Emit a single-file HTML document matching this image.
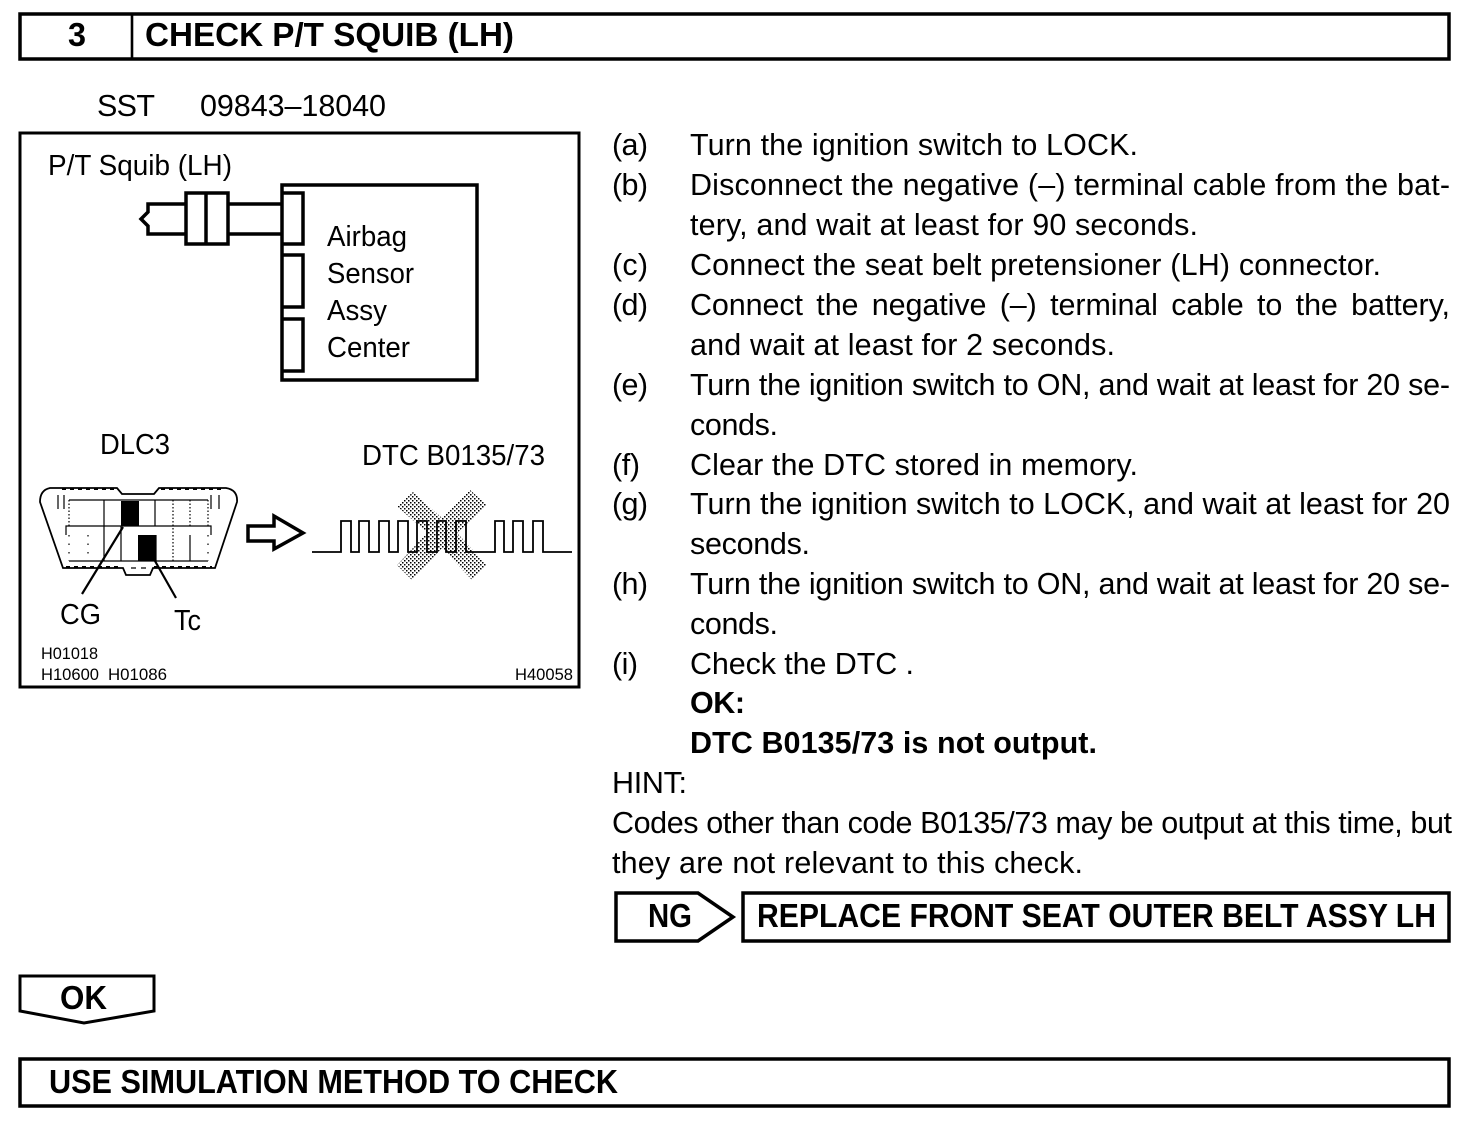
<!DOCTYPE html>
<html><head><meta charset="utf-8"><style>
html,body{margin:0;padding:0;background:#fff}
svg{display:block}
text{font-family:"Liberation Sans",sans-serif;fill:#000;white-space:pre}
.t{font-size:30.5px}
.b{font-size:33px;font-weight:bold}
.l{font-size:29px}
.s{font-size:17px}
</style></head><body>
<svg width="1472" height="1128" viewBox="0 0 1472 1128" xmlns="http://www.w3.org/2000/svg">
<defs><pattern id="st" width="4" height="4" patternUnits="userSpaceOnUse">
<rect x="0" y="0" width="1.3" height="1.3" fill="#000" shape-rendering="crispEdges"/><rect x="2" y="2" width="1.3" height="1.3" fill="#000" shape-rendering="crispEdges"/></pattern></defs>
<rect width="1472" height="1128" fill="#fff"/>
<g fill="none" stroke="#000" stroke-width="3.5">
<rect x="20" y="14" width="1429" height="45"/>
<line x1="132" y1="14" x2="132" y2="59" stroke-width="2.6"/>
<rect x="743" y="893" width="706" height="48"/>
<rect x="20" y="1059" width="1429" height="47"/>
<path d="M616 893H698L733 917L698 941H616Z"/>
<path d="M20 976H154V1011L84 1023L20 1011Z" stroke-width="3"/>
</g>
<rect x="20" y="133" width="559" height="554" fill="none" stroke="#000" stroke-width="3"/>

<g fill="none" stroke="#000" stroke-width="3.5">
<rect x="282" y="185" width="195" height="195"/>
<path d="M282 193H303V244H282M282 255H303V307H282M282 319H303V371H282"/>
<rect x="186" y="193" width="42" height="51"/>
<line x1="206" y1="193" x2="206" y2="244"/>
<path d="M186 204H148V212L141 219L148 226V234H186M228 204H282M228 234H282"/>
<path d="M248 526H274V516L303 533L274 549V541H248Z"/>
</g>

<polygon fill="url(#st)" points="413,492 442,518 470,490 487,505 457,533 487,565 472,580 442,548 412,580 397,565 427,533 397,506"/>
<path fill="none" stroke="#000" stroke-width="1.8" d="M312 552H341V521H351V552H359V521H369V552H379V521H389V552H398V521H408V552H417V521H427V552H437V521H446V552H456V521H466V552H495V521H504V552H513V521H523V552H533V521H543V552H572"/>

<g fill="none" stroke="#000" stroke-width="1.2">
<path stroke-width="1.8" d="M50 488H117L122 494H154L159 488H226Q238 490 237 502L215 568H153L150 575H126L123 568H63L40 502Q40 490 50 488Z" fill="#fff"/>
<path stroke-width="2" stroke-dasharray="4 4" d="M62 489H115M161 489H224M66 567H122M154 567H212"/>
<path d="M69 500H208M66 535V526H211V535M69 561H208M104 500V561M121 526V561M155 500V526M156 535V561M190 535V561M58 495V509M64 495V509M211 495V509M219 495V509M131 568H136M141 568H146"/>
<path stroke-dasharray="1.5 2" d="M69 500V526M208 500V526M173 500V561M190 500V526"/>
<path stroke-dasharray="1.5 7" d="M69 535V561M88 535V561M208 535V561"/>
</g>
<rect x="121" y="501" width="18" height="25" fill="#000"/>
<rect x="138" y="535" width="18" height="26" fill="#000"/>
<path fill="none" stroke="#000" stroke-width="2.2" d="M123 527L82 594M155 561L176 598"/>

<text class="b" x="68" y="46" textLength="18" lengthAdjust="spacingAndGlyphs">3</text>
<text class="b" x="145" y="46" textLength="369" lengthAdjust="spacingAndGlyphs">CHECK P/T SQUIB (LH)</text>
<text class="t" x="97" y="116" textLength="58">SST</text>
<text class="t" x="200" y="116" textLength="186">09843–18040</text>

<text class="l" x="48" y="175" textLength="184" lengthAdjust="spacingAndGlyphs">P/T Squib (LH)</text>
<text class="l" x="327" y="246" textLength="80" lengthAdjust="spacingAndGlyphs">Airbag</text>
<text class="l" x="327" y="283" textLength="87" lengthAdjust="spacingAndGlyphs">Sensor</text>
<text class="l" x="327" y="320" textLength="60" lengthAdjust="spacingAndGlyphs">Assy</text>
<text class="l" x="327" y="357" textLength="83" lengthAdjust="spacingAndGlyphs">Center</text>
<text class="l" x="100" y="454" textLength="70" lengthAdjust="spacingAndGlyphs">DLC3</text>
<text class="l" x="362" y="465" textLength="183" lengthAdjust="spacingAndGlyphs">DTC B0135/73</text>
<text class="l" x="60" y="624" textLength="41" lengthAdjust="spacingAndGlyphs">CG</text>
<text class="l" x="174" y="630" textLength="27" lengthAdjust="spacingAndGlyphs">Tc</text>
<text class="s" x="41" y="659" textLength="57" lengthAdjust="spacingAndGlyphs">H01018</text>
<text class="s" x="41" y="680" textLength="58" lengthAdjust="spacingAndGlyphs">H10600</text>
<text class="s" x="108" y="680" textLength="59" lengthAdjust="spacingAndGlyphs">H01086</text>
<text class="s" x="515" y="680" textLength="58" lengthAdjust="spacingAndGlyphs">H40058</text>

<g class="t">
<text class="t" x="612" y="155" textLength="36">(a)</text>
<text class="t" x="690" y="155" textLength="448">Turn the ignition switch to LOCK.</text>
<text class="t" x="612" y="195" textLength="36">(b)</text>
<text class="t" x="690" y="195" textLength="760">Disconnect the negative (–) terminal cable from the bat-</text>
<text class="t" x="690" y="235" textLength="508">tery, and wait at least for 90 seconds.</text>
<text class="t" x="612" y="275" textLength="36">(c)</text>
<text class="t" x="690" y="275" textLength="691">Connect the seat belt pretensioner (LH) connector.</text>
<text class="t" x="612" y="315" textLength="36">(d)</text>
<text class="t" x="690" y="315" textLength="760" style="word-spacing:5px">Connect the negative (–) terminal cable to the battery,</text>
<text class="t" x="690" y="355" textLength="425">and wait at least for 2 seconds.</text>
<text class="t" x="612" y="395" textLength="36">(e)</text>
<text class="t" x="690" y="395" textLength="760">Turn the ignition switch to ON, and wait at least for 20 se-</text>
<text class="t" x="690" y="435" textLength="88">conds.</text>
<text class="t" x="612" y="475" textLength="28">(f)</text>
<text class="t" x="690" y="475" textLength="448">Clear the DTC stored in memory.</text>
<text class="t" x="612" y="514" textLength="36">(g)</text>
<text class="t" x="690" y="514" textLength="760">Turn the ignition switch to LOCK, and wait at least for 20</text>
<text class="t" x="690" y="554" textLength="120">seconds.</text>
<text class="t" x="612" y="594" textLength="36">(h)</text>
<text class="t" x="690" y="594" textLength="760">Turn the ignition switch to ON, and wait at least for 20 se-</text>
<text class="t" x="690" y="634" textLength="88">conds.</text>
<text class="t" x="612" y="674" textLength="26">(i)</text>
<text class="t" x="690" y="674" textLength="224">Check the DTC .</text>
<text class="t" x="612" y="793" textLength="75">HINT:</text>
<text class="t" x="612" y="833" textLength="840">Codes other than code B0135/73 may be output at this time, but</text>
<text class="t" x="612" y="873" textLength="471">they are not relevant to this check.</text>
</g>
<text class="t" x="690" y="713" textLength="55" style="font-weight:bold">OK:</text>
<text class="t" x="690" y="753" textLength="407" style="font-weight:bold">DTC B0135/73 is not output.</text>

<text class="b" x="648" y="927" textLength="44" lengthAdjust="spacingAndGlyphs">NG</text>
<text class="b" x="757" y="927" textLength="679" lengthAdjust="spacingAndGlyphs">REPLACE FRONT SEAT OUTER BELT ASSY LH</text>
<text class="b" x="60" y="1009" textLength="47" lengthAdjust="spacingAndGlyphs">OK</text>
<text class="b" x="49" y="1093" textLength="569" lengthAdjust="spacingAndGlyphs">USE SIMULATION METHOD TO CHECK</text>
</svg>
</body></html>
